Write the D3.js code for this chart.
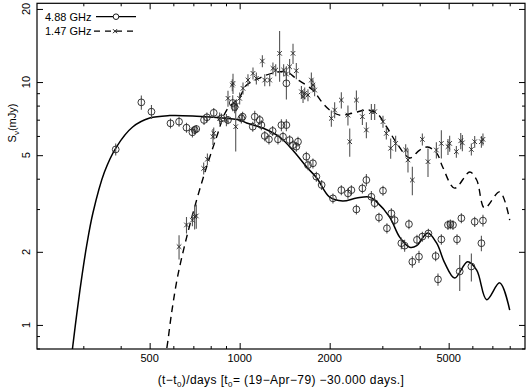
<!DOCTYPE html>
<html lang="en">
<head>
<meta charset="UTF-8">
<title>Light curve 4.88 / 1.47 GHz</title>
<script src="https://cdnjs.cloudflare.com/ajax/libs/d3/7.8.5/d3.min.js"></script>
<style>
  body { margin: 0; background: #fff; }
  svg text { font-family: "Liberation Sans", Arial, sans-serif; font-size: 11px; fill: #000; }
</style>
</head>
<body>
<script>

// 4.88 GHz measurements (days, mJy, error mJy)
var days488 = [385,469,507,587,627,664,695,707,716,760,777,819,869,914,948,962,1013,1023,1106,1123,
  1167,1182,1213,1253,1289,1343,1379,1396,1433,1433,1469,1508,1547,1567,1671,1692,1758,1805,1880,2051,
  2188,2302,2364,2457,2573,2653,2757,2828,2923,3015,3108,3216,3298,3473,3562,3682,3780,3917,3978,4083,
  4277,4523,4605,4726,4973,5066,5168,5332,5444,5514,5955,6109,6433,6511];
var flux488 = [5.28,8.25,7.55,6.76,6.87,6.49,6.21,6.35,6.41,6.98,7.16,7.47,7.09,6.98,8.20,7.89,7.09,7.20,6.55,7.20,
  6.98,6.65,6.00,5.81,6.29,5.81,6.65,5.96,6.65,9.88,5.77,5.50,5.42,5.68,4.93,4.55,4.63,4.08,3.77,3.32,
  3.59,3.48,3.59,2.99,3.65,3.95,3.37,3.17,2.77,3.57,2.50,2.88,2.70,2.17,2.12,2.60,1.82,2.24,1.91,2.31,
  2.38,1.92,1.54,2.25,2.58,2.60,2.58,2.25,1.66,2.75,1.74,2.66,2.17,2.69];
var err488 = [0.30,0.55,0.50,0.32,0.33,0.31,0.30,0.24,0.24,0.33,0.34,0.35,0.34,0.27,0.62,0.45,0.34,0.34,0.31,0.41,
  0.33,0.32,0.29,0.28,0.30,0.28,0.38,0.28,0.38,1.40,0.27,0.26,0.26,0.27,0.23,0.22,0.22,0.19,0.18,0.16,
  0.17,0.17,0.17,0.14,0.17,0.23,0.19,0.15,0.13,0.17,0.12,0.14,0.13,0.12,0.12,0.12,0.10,0.11,0.11,0.11,
  0.11,0.09,0.09,0.11,0.12,0.12,0.12,0.11,0.28,0.13,0.23,0.13,0.16,0.15];

// 1.47 GHz measurements
var days147 = [627,664,695,707,716,758,780,819,857,914,950,970,814,903,945,975,1000,1026,1066,1108,
  1137,1191,1213,1260,1292,1320,1360,1403,1433,1469,1508,1547,1609,1629,1650,1692,1737,1758,1781,2026,
  2078,2188,2334,2457,2573,2653,2757,2828,2302,3015,3094,3199,3324,3591,3655,3780,4083,4264,4548,4726,
  4973,5038,5305,5487,5557,5955,6109,6433,6511];
var flux147 = [2.10,2.58,2.70,2.79,2.81,4.41,4.81,6.15,7.09,8.57,9.88,6.55,5.96,6.98,9.72,8.04,8.57,9.42,10.19,10.86,
  10.36,12.2,10.19,10.19,11.39,11.2,13.13,11.2,10.79,11.56,13.13,11.13,9.12,8.70,8.98,8.84,10.19,9.72,9.27,7.09,
  7.67,8.43,5.68,8.43,7.20,6.35,7.55,7.55,7.31,6.87,6.15,5.34,5.59,5.25,4.78,3.95,5.81,4.70,5.25,5.59,
  5.42,5.59,5.17,5.73,5.62,5.28,5.68,5.68,5.81];
var err147 = [0.24,0.20,0.15,0.32,0.32,0.25,0.27,0.35,0.40,0.65,0.94,1.37,0.45,0.40,0.55,0.46,0.49,0.54,0.58,0.62,
  0.59,0.70,0.58,0.58,0.65,0.64,3.1,0.64,0.82,0.88,1.25,0.85,0.52,0.50,0.51,0.50,0.77,0.55,0.53,0.54,
  0.58,0.64,0.76,0.80,0.55,0.48,0.57,0.57,0.69,0.39,0.35,0.51,0.42,0.30,0.54,0.53,0.33,0.63,0.40,0.74,
  0.41,0.42,0.29,0.44,0.43,0.30,0.32,0.32,0.33];

// model curves
var modelDays488 = [272,276,285,295.5,308,323,353,387,438.5,500,583,718,837,1000,1055,1194,1360,1504,1675,1810,
  2000,2210,2462,2721,2871,3174,3428,3703,3909,4253,4560,4850,5236,5785,6204,6700,7405,8000];
var modelFlux488 = [0.68,0.80,1.10,1.53,2.13,2.89,4.26,5.40,6.53,7.11,7.28,7.24,7.15,6.98,6.78,6.47,5.94,5.25,4.47,4.03,
  3.36,3.24,3.33,3.36,3.21,2.78,2.30,2.09,2.12,2.39,2.17,1.80,1.56,1.82,1.68,1.27,1.49,1.15];
var modelDays147 = [560,570,592,620,665,718,775,837,905,1000,1055,1167,1289,1436,1551,1755,1894,2000,2160,2387,
  2659,2871,3102,3350,3703,4000,4253,4560,4774,5236,5880,6204,6596,7405,8000];
var modelFlux147 = [0.72,0.796,1.12,1.58,2.30,3.27,4.47,5.94,7.67,8.68,9.72,10.39,10.89,11.0,10.29,9.27,8.20,7.67,7.31,7.45,
  7.67,7.45,6.53,5.61,4.87,5.25,5.40,5.10,4.47,3.66,4.26,3.95,3.03,3.53,2.70];

// ticks
var xTicks = [500, 1000, 2000, 5000];
var xMinor = [300,400,600,700,800,900,3000,4000,6000,7000,8000];
var yTicks = [1, 2, 5, 10, 20];
var yMinor = [0.8,0.9,3,4,6,7,8,9];
var legendLabels = ["4.88 GHz", "1.47 GHz"];

var w = 530, h = 391;
var pLeft = 37, pRight = 525, pTop = 3.3, pBottom = 349;

var x = d3.scaleLog().domain([210, 9000]).range([pLeft, pRight]);
var y = d3.scaleLog().domain([0.796, 21.1]).range([pBottom, pTop]);

var svg = d3.select("body").append("svg")
  .attr("width", w).attr("height", h);

svg.append("clipPath").attr("id", "clip")
  .append("rect").attr("x", pLeft).attr("y", pTop)
  .attr("width", pRight - pLeft).attr("height", pBottom - pTop);

// inward ticks on all four sides, no labels from the axis itself
function ticksOn(g, axis) { g.call(axis); g.selectAll("text").remove(); g.select(".domain").remove(); }

function sideTicks(pos, make, scale, major, minor) {
  svg.append("g").attr("transform", pos)
    .call(function(g) { ticksOn(g, make(scale).tickValues(major).tickSizeInner(6).tickSizeOuter(0)); });
  svg.append("g").attr("transform", pos)
    .call(function(g) { ticksOn(g, make(scale).tickValues(minor).tickSizeInner(3).tickSizeOuter(0)); });
}
sideTicks("translate(0," + pBottom + ")", d3.axisTop, x, xTicks, xMinor);
sideTicks("translate(0," + pTop + ")", d3.axisBottom, x, xTicks, xMinor);
sideTicks("translate(" + pLeft + ",0)", d3.axisRight, y, yTicks, yMinor);
sideTicks("translate(" + pRight + ",0)", d3.axisLeft, y, yTicks, yMinor);
svg.selectAll(".tick line").attr("stroke", "#000").attr("stroke-width", 1);

svg.append("rect")
  .attr("x", pLeft).attr("y", pTop)
  .attr("width", pRight - pLeft).attr("height", pBottom - pTop)
  .attr("fill", "none").attr("stroke", "#000").attr("stroke-width", 1.2);

// tick labels
svg.selectAll(".xlab").data(xTicks).enter().append("text")
  .attr("x", function(d) { return x(d); })
  .attr("y", 362)
  .attr("text-anchor", "middle")
  .text(function(d) { return d; });

svg.selectAll(".ylab").data(yTicks).enter().append("text")
  .attr("transform", function(d) { return "translate(30," + y(d) + ") rotate(-90)"; })
  .attr("text-anchor", "middle")
  .text(function(d) { return d; });

// axis titles
var xt = svg.append("text").attr("x", (pLeft + pRight) / 2).attr("y", 384)
  .attr("text-anchor", "middle").style("font-size", "12px").style("letter-spacing", "0.4px");
xt.append("tspan").text("(t\u2212t");
xt.append("tspan").attr("dy", 3).style("font-size", "8px").text("0");
xt.append("tspan").attr("dy", -3).text(")/days [t");
xt.append("tspan").attr("dy", 3).style("font-size", "8px").text("0");
xt.append("tspan").attr("dy", -3).text("= (19\u2212Apr\u221279) \u221230.000 days.]");

var yt = svg.append("text").attr("transform", "translate(16,123) rotate(-90)").attr("text-anchor", "middle");
yt.append("tspan").text("S");
yt.append("tspan").attr("dy", 3).style("font-size", "8px").text("\u03bd");
yt.append("tspan").attr("dy", -3).text("(mJy)");

// model curves
var line = d3.line()
  .x(function(d) { return x(d[0]); })
  .y(function(d) { return y(d[1]); })
  .curve(d3.curveCatmullRom);

var plot = svg.append("g").attr("clip-path", "url(#clip)");

plot.append("path")
  .datum(d3.zip(modelDays488, modelFlux488))
  .attr("d", line)
  .attr("fill", "none").attr("stroke", "#000").attr("stroke-width", 1.5);

plot.append("path")
  .datum(d3.zip(modelDays147, modelFlux147))
  .attr("d", line)
  .attr("fill", "none").attr("stroke", "#000").attr("stroke-width", 1.4)
  .attr("stroke-dasharray", "7,5");

// error bars
function errorBars(days, flux, err) {
  plot.append("g").selectAll("line")
    .data(d3.range(days.length)).enter().append("line")
    .attr("x1", function(i) { return x(days[i]); })
    .attr("x2", function(i) { return x(days[i]); })
    .attr("y1", function(i) { return y(flux[i] - err[i]); })
    .attr("y2", function(i) { return y(flux[i] + err[i]); })
    .attr("stroke", "#555").attr("stroke-width", 1.1);
}
errorBars(days488, flux488, err488);
errorBars(days147, flux147, err147);

// markers
plot.append("g").selectAll("circle")
  .data(d3.range(days488.length)).enter().append("circle")
  .attr("cx", function(i) { return x(days488[i]); })
  .attr("cy", function(i) { return y(flux488[i]); })
  .attr("r", 3.4)
  .attr("fill", "none").attr("stroke", "#222").attr("stroke-width", 0.9);

var cs = 2.3;
plot.append("g").selectAll("path")
  .data(d3.range(days147.length)).enter().append("path")
  .attr("d", function(i) {
    var cx = x(days147[i]), cy = y(flux147[i]);
    return "M" + (cx - cs) + "," + (cy - cs) + "L" + (cx + cs) + "," + (cy + cs) +
           "M" + (cx - cs) + "," + (cy + cs) + "L" + (cx + cs) + "," + (cy - cs);
  })
  .attr("stroke", "#222").attr("stroke-width", 0.9);

// legend
var lg = svg.append("g");
lg.selectAll("text").data(legendLabels).enter().append("text")
  .attr("x", 45).attr("y", function(d, i) { return 20.5 + i * 14.5; })
  .text(function(d) { return d; });
lg.append("line").attr("x1", 96).attr("x2", 136).attr("y1", 16.7).attr("y2", 16.7)
  .attr("stroke", "#000").attr("stroke-width", 1.2);
lg.append("circle").attr("cx", 116).attr("cy", 16.7).attr("r", 2.8)
  .attr("fill", "#fff").attr("stroke", "#000").attr("stroke-width", 0.9);
lg.append("line").attr("x1", 94).attr("x2", 137).attr("y1", 31.2).attr("y2", 31.2)
  .attr("stroke", "#000").attr("stroke-width", 1.2).attr("stroke-dasharray", "6,5");
lg.append("path")
  .attr("d", "M113,29.2L117,33.2M113,33.2L117,29.2")
  .attr("stroke", "#000").attr("stroke-width", 0.9);
</script>
</body>
</html>
